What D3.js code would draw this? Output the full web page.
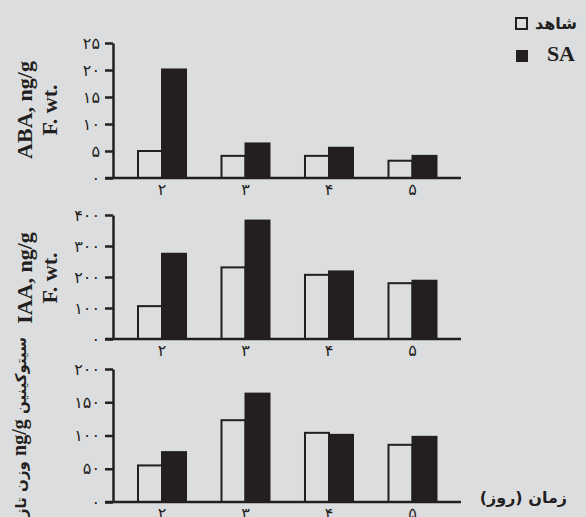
<!DOCTYPE html>
<html>
<head>
  <meta charset="utf-8">
  <title>ABA, IAA, cytokinin</title>
  <script src="https://cdn.jsdelivr.net/npm/d3@7"></script>
  <style>
    body { margin: 0; background: #dcdddf; }
    svg { display: block; }
  </style>
</head>
<body>
<script>
  // days after treatment
  var days = ["2", "3", "4", "5"];
  var series = ["control", "SA"];

  var abaControl = [5, 4.1, 4.1, 3.2];
  var abaSA = [20.1, 6.4, 5.6, 4.1];
  var iaaControl = [106, 231, 207, 180];
  var iaaSA = [275, 382, 218, 188];
  var cytControl = [55, 123, 104, 86];
  var cytSA = [75, 163, 101, 98];

  var abaTicks = [0, 5, 10, 15, 20, 25];
  var iaaTicks = [0, 100, 200, 300, 400];
  var cytTicks = [0, 50, 100, 150, 200];

  var width = 586;
  var height = 517;
  var ink = "#231f20";
  var persianFont = "'DejaVu Sans', sans-serif";
  var serifFont = "'Liberation Serif', 'Times New Roman', serif";

  function fa(n) {
    return String(n).replace(/\d/g, function(c) { return "۰۱۲۳۴۵۶۷۸۹"[+c]; });
  }

  var svg = d3.select("body")
    .append("svg")
    .attr("width", width)
    .attr("height", height);

  var x0 = d3.scaleBand()
    .domain(days)
    .range([138, 436.5])
    .paddingInner(0.425)
    .paddingOuter(0);

  var x1 = d3.scaleBand()
    .domain(series)
    .range([0, x0.bandwidth()]);

  var panels = [
    { control: abaControl, sa: abaSA, ticks: abaTicks, top: 43, bottom: 178 },
    { control: iaaControl, sa: iaaSA, ticks: iaaTicks, top: 215, bottom: 339 },
    { control: cytControl, sa: cytSA, ticks: cytTicks, top: 369, bottom: 502 }
  ];

  panels.forEach(function(p) {
    var y = d3.scaleLinear()
      .domain([0, d3.max(p.ticks)])
      .range([p.bottom, p.top]);

    var g = svg.append("g");

    var rows = days.map(function(d, i) {
      return { day: d, values: [
        { key: "control", value: p.control[i] },
        { key: "SA", value: p.sa[i] }
      ] };
    });

    g.selectAll("g.day")
      .data(rows)
      .enter()
      .append("g")
      .attr("class", "day")
      .attr("transform", function(d) { return "translate(" + x0(d.day) + ",0)"; })
      .selectAll("rect")
      .data(function(d) { return d.values; })
      .enter()
      .append("rect")
      .attr("x", function(d) { return x1(d.key); })
      .attr("y", function(d) { return y(d.value); })
      .attr("width", x1.bandwidth())
      .attr("height", function(d) { return y(0) - y(d.value); })
      .attr("fill", function(d) { return d.key == "SA" ? ink : "none"; })
      .attr("stroke", ink)
      .attr("stroke-width", 2);

    // y axis
    var yAxis = g.append("g")
      .attr("transform", "translate(113,0)")
      .call(d3.axisLeft(y).tickValues(p.ticks).tickSize(8).tickSizeOuter(0).tickPadding(5).tickFormat(fa));
    yAxis.select(".domain").attr("stroke", ink).attr("stroke-width", 2.5);
    yAxis.selectAll(".tick line").attr("stroke", ink).attr("stroke-width", 2.5);
    yAxis.selectAll(".tick text")
      .attr("fill", ink)
      .style("font-family", persianFont)
      .style("font-size", "16px")
      .style("letter-spacing", "3px");

    // baseline
    g.append("line")
      .attr("x1", 105).attr("x2", 461)
      .attr("y1", y(0)).attr("y2", y(0))
      .attr("stroke", ink)
      .attr("stroke-width", 2.5);

    // x axis labels
    var xAxis = g.append("g")
      .attr("transform", "translate(0," + y(0) + ")")
      .call(d3.axisBottom(x0).tickSize(0).tickPadding(6).tickFormat(fa));
    xAxis.select(".domain").remove();
    xAxis.selectAll(".tick text")
      .attr("fill", ink)
      .style("font-family", persianFont)
      .style("font-size", "16px");
  });

  // y titles
  function title(lines, cy) {
    var t = svg.append("g");
    lines.forEach(function(s, i) {
      t.append("text")
        .attr("transform", "translate(" + (32 + i * 25) + "," + cy + ") rotate(-90)")
        .attr("text-anchor", "middle")
        .attr("fill", ink)
        .style("font-family", serifFont)
        .style("font-weight", "bold")
        .style("font-size", "22px")
        .text(s);
    });
  }
  title(["ABA, ng/g", "F. wt."], 110);
  title(["IAA, ng/g", "F. wt."], 278);

  var cytTitle = svg.append("text")
    .attr("transform", "translate(26,337) rotate(-90)")
    .attr("direction", "rtl")
    .attr("text-anchor", "start")
    .attr("fill", ink)
    .style("font-family", persianFont)
    .style("font-size", "15px")
    .style("font-weight", "bold");
  cytTitle.append("tspan").text("سیتوکینین ");
  cytTitle.append("tspan")
    .style("font-family", serifFont)
    .style("font-size", "20px")
    .text("ng/g");
  cytTitle.append("tspan").text(" وزن تازه");

  // x title
  svg.append("text")
    .attr("x", 567)
    .attr("y", 503)
    .attr("text-anchor", "end")
    .attr("fill", ink)
    .style("font-family", persianFont)
    .style("font-size", "16px")
    .style("font-weight", "bold")
    .text("زمان (روز)");

  // legend
  var legend = svg.append("g");
  legend.append("rect")
    .attr("x", 516).attr("y", 18).attr("width", 11).attr("height", 11)
    .attr("fill", "none").attr("stroke", ink).attr("stroke-width", 2);
  legend.append("text")
    .attr("x", 577).attr("y", 29)
    .attr("text-anchor", "end")
    .attr("fill", ink)
    .style("font-family", persianFont)
    .style("font-size", "16px")
    .style("font-weight", "bold")
    .text("شاهد");
  legend.append("rect")
    .attr("x", 516).attr("y", 50).attr("width", 12).attr("height", 12)
    .attr("fill", ink);
  legend.append("text")
    .attr("x", 575).attr("y", 61)
    .attr("text-anchor", "end")
    .attr("fill", ink)
    .style("font-family", serifFont)
    .style("font-weight", "bold")
    .style("font-size", "22px")
    .text("SA");
</script>
</body>
</html>
